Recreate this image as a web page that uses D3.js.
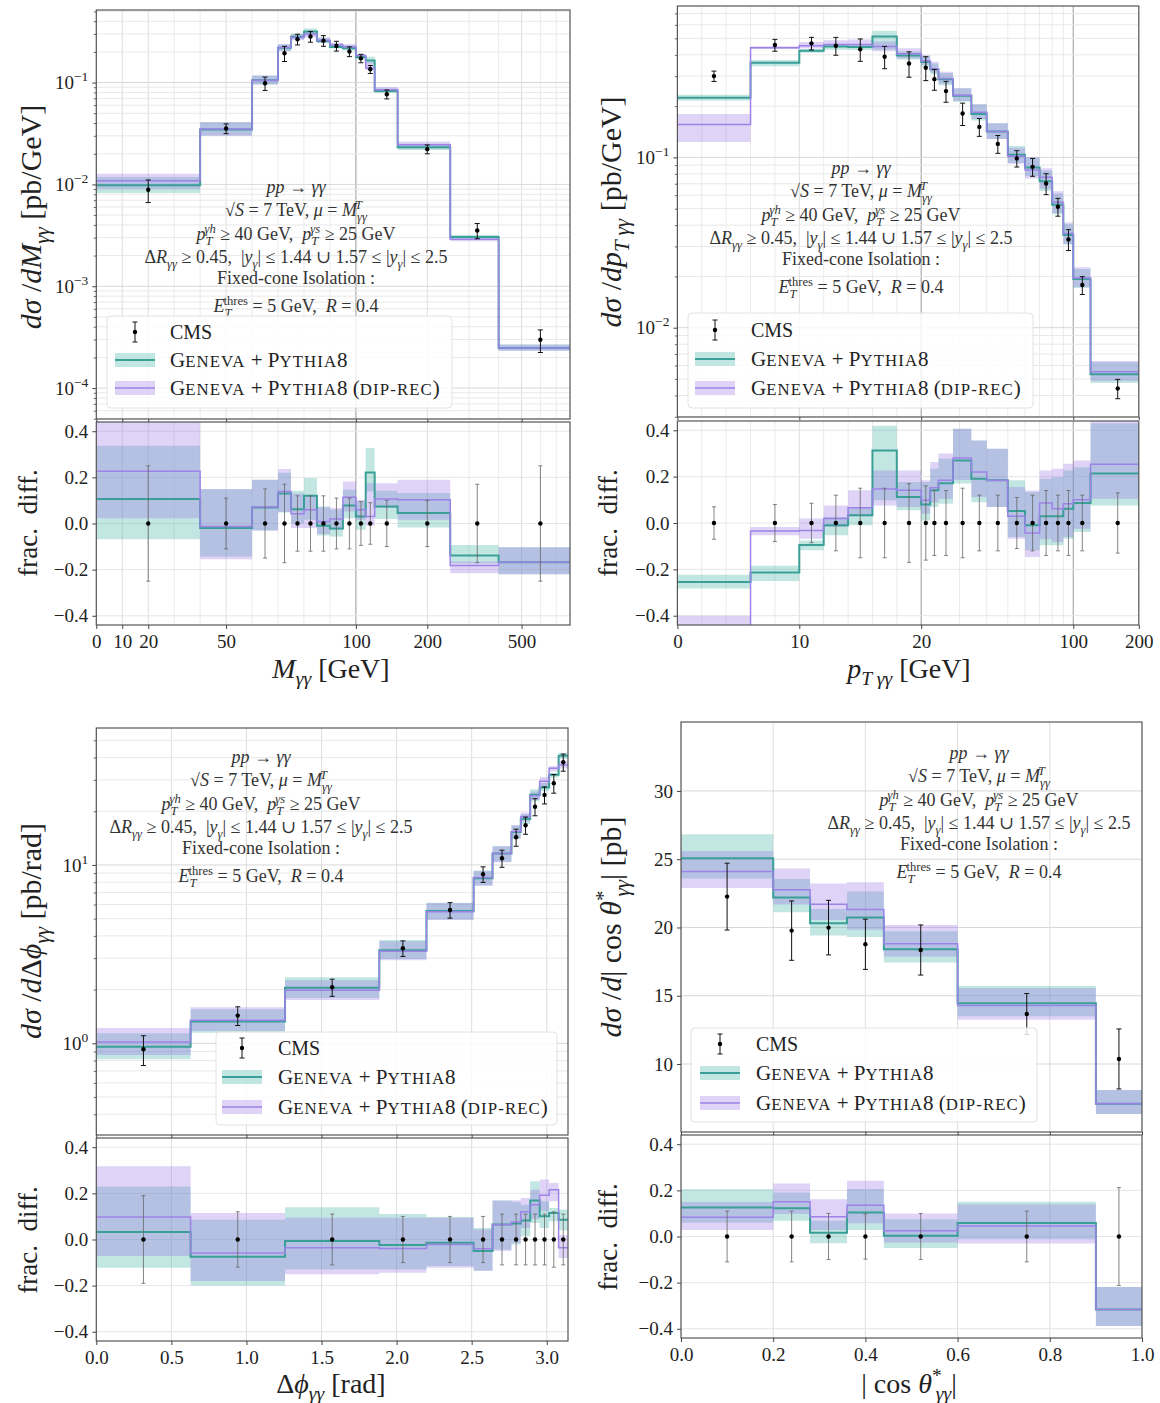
<!DOCTYPE html>
<html><head><meta charset="utf-8">
<script src="https://cdn.jsdelivr.net/npm/d3@7"></script>
<style>
body{margin:0;background:#fff}
text{font-family:"Liberation Serif","DejaVu Serif",serif;fill:#222;white-space:pre}
</style>
</head><body>
<script>
// ---------- DATA ----------
// Panel 1: M_yy
const mEdges = [0,40,60,70,75,80,85,90,95,100,110,120,150,250,400,800];
const mCenters = [20,50,65,72.5,77.5,82.5,87.5,92.5,97.5,105,115,135,200,325,600];
const mCMS = [0.00885,0.0354,0.0985,0.194,0.266,0.283,0.258,0.229,0.202,0.173,0.135,0.0768,0.0222,0.00353,0.000298];
const mCMSErr = [0.25,0.11,0.15,0.17,0.12,0.12,0.12,0.11,0.11,0.095,0.09,0.10,0.10,0.17,0.25];
const mGen   = [0.106,-0.02,0.069,0.13,0.062,0.12,-0.01,-0.022,0.078,0.03,0.221,0.074,0.045,-0.139,-0.168];
const mGenLo = [-0.068,-0.143,-0.03,0.048,0.0,0.016,-0.052,-0.056,0.023,-0.027,0.139,0.02,-0.017,-0.172,-0.22];
const mGenHi = [0.337,0.149,0.19,0.22,0.142,0.197,0.074,0.06,0.146,0.095,0.327,0.142,0.132,-0.093,-0.103];
const mDip   = [0.227,-0.013,0.071,0.139,0.042,0.06,0.009,0.019,0.114,0.06,0.03,0.106,0.103,-0.182,-0.168];
const mDipLo = [0.023,-0.155,-0.03,0.05,-0.02,-0.02,-0.045,-0.027,0.052,0.016,-0.01,0.067,0.016,-0.216,-0.22];
const mDipHi = [0.44,0.15,0.19,0.236,0.13,0.124,0.07,0.067,0.182,0.103,0.175,0.175,0.19,-0.165,-0.103];
const mTicks = [0,10,20,50,100,200,500];
const mTickLabels = ["0","10","20","50","100","200","500"];
const mMinor = [30,40,60,70,80,90,300,400,600,700];

// Panel 2: pT_yy
const pEdges = [0,6,10,12,14,16,18,20,22,24,28,34,40,50,60,70,80,90,100,120,200];
const pCenters = [3,8,11,13,15,17,19,21,23,26,31,37,45,55,65,75,85,95,110,160];
const pCMS = [0.300,0.4565,0.467,0.452,0.431,0.390,0.356,0.336,0.288,0.245,0.181,0.151,0.120,0.0986,0.088,0.0703,0.0513,0.033,0.0178,0.0044];
const pCMSErr = [0.07,0.08,0.085,0.12,0.15,0.15,0.17,0.16,0.14,0.14,0.15,0.12,0.12,0.11,0.12,0.14,0.12,0.14,0.12,0.13];
const pGen   = [-0.254,-0.214,-0.095,-0.01,0.033,0.313,0.112,0.08,0.141,0.172,0.27,0.191,0.184,0.052,-0.01,0.029,0.029,0.062,0.086,0.213];
const pGenLo = [-0.283,-0.25,-0.118,-0.053,-0.01,0.098,0.055,0.011,0.069,0.083,0.17,0.09,0.069,-0.06,-0.118,-0.096,-0.096,-0.068,-0.039,0.076];
const pGenHi = [-0.223,-0.184,-0.075,0.026,0.066,0.42,0.177,0.177,0.234,0.277,0.407,0.356,0.32,0.184,0.134,0.191,0.198,0.227,0.241,0.43];
const pDip   = [-0.48,-0.035,-0.032,0.019,0.066,0.147,0.141,0.098,0.152,0.184,0.28,0.22,0.184,0.029,-0.043,0.086,0.062,0.083,0.1,0.253];
const pDipLo = [-0.59,-0.053,-0.068,-0.017,0.029,0.076,0.069,0.04,0.09,0.105,0.185,0.112,0.069,-0.068,-0.147,-0.07,-0.082,-0.06,-0.025,0.105];
const pDipHi = [-0.40,-0.017,0.019,0.076,0.141,0.227,0.227,0.184,0.263,0.3,0.407,0.356,0.32,0.155,0.14,0.227,0.234,0.256,0.27,0.45];
const pTicks = [0,10,20,100,200];
const pTickLabels = ["0","10","20","100","200"];
const pMinor = [2,4,6,8,12,14,16,18,30,40,50,60,70,80,90];

// Panel 3: delta phi
const dEdges = [0,0.628,1.257,1.885,2.199,2.513,2.639,2.765,2.827,2.890,2.953,3.016,3.079,3.1416];
const dCenters = [0.314,0.942,1.571,2.042,2.356,2.576,2.702,2.796,2.859,2.922,2.985,3.047,3.110];
const dCMS = [0.926,1.43,2.06,3.41,5.59,8.87,10.9,14.3,16.7,21.2,24.7,28.7,37.7];
const dCMSErr = [0.19,0.12,0.11,0.10,0.10,0.10,0.11,0.11,0.11,0.11,0.11,0.12,0.11];
const dGen   = [0.032,-0.075,-0.007,-0.024,-0.014,-0.05,0.065,0.069,0.082,0.169,0.101,0.115,0.086];
const dGenLo = [-0.122,-0.199,-0.13,-0.13,-0.115,-0.134,-0.043,-0.022,0.014,0.072,0.05,0.079,0.04];
const dGenHi = [0.23,0.086,0.14,0.111,0.097,0.05,0.169,0.163,0.151,0.252,0.166,0.137,0.13];
const dDip   = [0.097,-0.058,-0.036,-0.039,-0.022,-0.04,0.065,0.076,0.12,0.151,0.192,0.216,-0.036];
const dDipLo = [-0.072,-0.18,-0.151,-0.144,-0.122,-0.137,-0.05,-0.015,0.05,0.09,0.122,0.166,-0.08];
const dDipHi = [0.317,0.115,0.094,0.094,0.094,0.043,0.169,0.17,0.18,0.216,0.26,0.245,0.02];
const dTicks = [0,0.5,1,1.5,2,2.5,3];
const dTickLabels = ["0.0","0.5","1.0","1.5","2.0","2.5","3.0"];

// Panel 4: |cos theta*|
const cEdges = [0,0.2,0.28,0.36,0.44,0.6,0.9,1.0];
const cCenters = [0.1,0.24,0.32,0.4,0.52,0.75,0.95];
const cCMS = [22.26,19.77,19.99,18.77,18.35,13.66,10.37];
const cCMSErr = [0.11,0.11,0.10,0.098,0.10,0.11,0.212];
const cGen   = [0.126,0.123,0.016,0.104,0.003,0.058,-0.316];
const cGenLo = [0.06,0.068,-0.029,0.028,-0.05,-0.012,-0.388];
const cGenHi = [0.205,0.191,0.068,0.206,0.075,0.151,-0.219];
const cDip   = [0.083,0.151,0.086,0.136,0.025,0.046,-0.316];
const cDipLo = [0.028,0.097,0.028,0.057,-0.026,-0.03,-0.388];
const cDipHi = [0.15,0.23,0.162,0.242,0.1,0.14,-0.219];
const cTicks = [0,0.2,0.4,0.6,0.8,1.0];
const cTickLabels = ["0.0","0.2","0.4","0.6","0.8","1.0"];

const ratioTicks = [-0.4,-0.2,0,0.2,0.4];

// ---------- DRAWING ----------
const svg = d3.select("body").append("svg").attr("width",1160).attr("height",1403);
const defs = svg.append("defs");
const TEAL="#3a9f96", PURP="#9d82e8";
const TEAL_F="rgba(64,176,166,0.32)", PURP_F="rgba(150,110,230,0.30)";

function pieceScale(b,d0,d1,r0,rb,r1){
  const lin=d3.scaleLinear().domain([d0,b]).range([r0,rb]);
  const lg=d3.scaleLog().domain([b,d1]).range([rb,r1]);
  const s=v=> v<=b ? lin(v) : lg(v);
  s.range=()=>[r0,r1]; s.domain=()=>[d0,d1]; s.copy=()=>s;
  return s;
}
function minorLog(lo,hi){
  const out=[];
  for(let e=Math.floor(Math.log10(lo));e<=Math.ceil(Math.log10(hi));e++)
    for(let m=2;m<=9;m++){const v=m*Math.pow(10,e); if(v>lo&&v<hi) out.push(v);}
  return out;
}
function rich(t,segs,fs){
  let cur=0;
  segs.forEach(([s,o])=>{
    o=o||{};
    let size=fs,target=0;
    if(o.sub){size=fs*0.7;target=fs*0.25;}
    if(o.sup){size=fs*0.7;target=-fs*0.38;}
    const ts=t.append("tspan").text(s).attr("dy",target-cur);
    if(o.sc){size=fs*0.8; ts.attr("letter-spacing",1.1);}
    ts.attr("font-size",size);
    if(o.i) ts.attr("font-style","italic");
    if(o.dx) ts.attr("dx",o.dx);
    cur=target;
  });
  return t;
}
const I={i:1}, SUB={i:1,sub:1}, SUP={sup:1}, SC={sc:1};
const annLines=[
  [["pp",I],[" → "],["γγ",I]],
  [["√"],["S",I],[" = 7 TeV, "],["μ",I],[" = "],["M",I],["γγ",SUB],["T",{i:1,sup:1,dx:-12}]],
  [["p",I],["T",SUB],["γh",{i:1,sup:1,dx:-8}],[" ≥ 40 GeV,  "],["p",I],["T",SUB],["γs",{i:1,sup:1,dx:-8}],[" ≥ 25 GeV"]],
  [["Δ"],["R",I],["γγ",SUB],[" ≥ 0.45,  |"],["y",I],["γ",SUB],["| ≤ 1.44 ∪ 1.57 ≤ |"],["y",I],["γ",SUB],["| ≤ 2.5"]],
  [["Fixed-cone Isolation :"]],
  [["E",I],["T",SUB],["thres",{sup:1,dx:-8}],[" = 5 GeV,  "],["R",I],[" = 0.4"]]
];
const annOffsets=[0,23,47,70,91,119];

function drawPanel(c){
  const g=svg.append("g");
  const x=c.x, [x0,x1]=x.range();
  const ym=c.ym;
  const yr=d3.scaleLinear().domain([-0.44,0.44]).range([c.rb,c.rt]);
  defs.append("clipPath").attr("id",c.id+"m").append("rect").attr("x",x0).attr("y",c.mt).attr("width",x1-x0).attr("height",c.mb-c.mt);
  defs.append("clipPath").attr("id",c.id+"r").append("rect").attr("x",x0).attr("y",c.rt).attr("width",x1-x0).attr("height",c.rb-c.rt);
  const gm=g.append("g").attr("clip-path",`url(#${c.id}m)`);
  const gr=g.append("g").attr("clip-path",`url(#${c.id}r)`);
  // grids
  const vline=(gg,v,t,b,col)=>gg.append("line").attr("x1",x(v)).attr("x2",x(v)).attr("y1",t).attr("y2",b).attr("stroke",col).attr("stroke-width",1);
  [[gm,c.mt,c.mb],[gr,c.rt,c.rb]].forEach(([gg,t,b])=>{
    (c.xMinor||[]).forEach(v=>vline(gg,v,t,b,"#ebebeb"));
    c.xTicks.forEach(v=>vline(gg,v,t,b,"#dedede"));
    (c.xDark||[]).forEach(v=>vline(gg,v,t,b,"#a8a8a8"));
  });
  const hline=(gg,yy,col)=>gg.append("line").attr("x1",x0).attr("x2",x1).attr("y1",yy).attr("y2",yy).attr("stroke",col);
  (c.yMinor||[]).forEach(v=>hline(gm,ym(v),"#e8e8e8"));
  c.yTicks.forEach(v=>hline(gm,ym(v),"#d8d8d8"));
  ratioTicks.forEach(v=>hline(gr,yr(v),"#e6e6e6"));

  const n=c.cms.length;
  const pts=(vals,lo,hi,f)=>c.edges.map((e,i)=>{const k=Math.min(i,n-1);return {x:e,v:f(vals[k],k),lo:f(lo[k],k),hi:f(hi[k],k)};});
  const mainF=(r,k)=>c.cms[k]*(1+r), ratF=r=>r;
  [[gm,ym,mainF],[gr,yr,ratF]].forEach(([gg,y,f])=>{
    const area=d3.area().x(d=>x(d.x)).y0(d=>y(d.lo)).y1(d=>y(d.hi)).curve(d3.curveStepAfter);
    const line=d3.line().x(d=>x(d.x)).y(d=>y(d.v)).curve(d3.curveStepAfter);
    const G=pts(c.gen,c.genLo,c.genHi,f), D=pts(c.dip,c.dipLo,c.dipHi,f);
    gg.append("path").attr("d",area(G)).attr("fill",TEAL_F);
    gg.append("path").attr("d",area(D)).attr("fill",PURP_F);
    gg.append("path").attr("d",line(G)).attr("fill","none").attr("stroke",TEAL).attr("stroke-width",2);
    gg.append("path").attr("d",line(D)).attr("fill","none").attr("stroke",PURP).attr("stroke-width",1.5);
  });
  // CMS points
  c.centers.forEach((cx,k)=>{
    const X=x(cx), v=c.cms[k], e=c.err[k];
    const yt=ym(v*(1+e)), yb=ym(v*(1-e));
    gm.append("line").attr("x1",X).attr("x2",X).attr("y1",yt).attr("y2",yb).attr("stroke","#111").attr("stroke-width",1);
    [yt,yb].forEach(yy=>gm.append("line").attr("x1",X-2.5).attr("x2",X+2.5).attr("y1",yy).attr("y2",yy).attr("stroke","#111"));
    gm.append("circle").attr("cx",X).attr("cy",ym(v)).attr("r",2.2).attr("fill","#000");
    const rt=yr(e), rb=yr(-e);
    gr.append("line").attr("x1",X).attr("x2",X).attr("y1",rt).attr("y2",rb).attr("stroke","#666").attr("stroke-width",0.8);
    [rt,rb].forEach(yy=>gr.append("line").attr("x1",X-2).attr("x2",X+2).attr("y1",yy).attr("y2",yy).attr("stroke","#666").attr("stroke-width",0.8));
    gr.append("circle").attr("cx",X).attr("cy",yr(0)).attr("r",2.2).attr("fill","#000");
  });
  // frames
  [[c.mt,c.mb],[c.rt,c.rb]].forEach(([t,b])=>g.append("rect").attr("x",x0).attr("y",t).attr("width",x1-x0).attr("height",b-t).attr("fill","none").attr("stroke","#555").attr("stroke-width",1.2));
  // axes
  const ax=g.append("g").attr("transform",`translate(0,${c.rb})`)
    .call(d3.axisBottom(x).tickValues(c.xTicks).tickFormat((d,i)=>c.xLabels[i]).tickSize(4).tickPadding(4));
  ax.attr("font-size",19).attr("color","#444"); ax.select(".domain").remove();
  ax.selectAll("text").attr("dy","0.78em");
  const am=g.append("g").attr("transform",`translate(0,${c.mb})`).call(d3.axisBottom(x).tickValues(c.xTicks).tickFormat("").tickSize(3));
  am.attr("color","#444"); am.select(".domain").remove();
  const ar=g.append("g").attr("transform",`translate(${x0},0)`)
    .call(d3.axisLeft(yr).tickValues(ratioTicks).tickFormat(d3.format(".1f")).tickSize(4).tickPadding(4));
  ar.attr("font-size",19).attr("color","#444"); ar.select(".domain").remove();
  const ay=g.append("g").attr("transform",`translate(${x0},0)`)
    .call(d3.axisLeft(ym).tickValues(c.yTicks).tickFormat("").tickSize(4));
  ay.attr("color","#444"); ay.select(".domain").remove();
  if(c.yMinor){
    const an=g.append("g").attr("transform",`translate(${x0},0)`).call(d3.axisLeft(ym).tickValues(c.yMinor).tickFormat("").tickSize(2.5));
    an.attr("color","#666"); an.select(".domain").remove();
  }
  c.yTicks.forEach(v=>{
    const t=g.append("text").attr("x",x0-8).attr("y",ym(v)).attr("text-anchor","end").attr("dy","0.35em").attr("font-size",19);
    if(c.yLog){
      const ex=Math.round(Math.log10(v));
      t.append("tspan").text("10");
      t.append("tspan").text(ex<0?"−"+(-ex):String(ex)).attr("font-size",13.5).attr("dy",-8);
    } else t.text(String(v));
  });
  // annotation
  annLines.forEach((segs,i)=>{
    const t=g.append("text").attr("x",c.ann[0]).attr("y",c.ann[1]+annOffsets[i]).attr("text-anchor","middle").style("fill","#333");
    rich(t,segs,18);
  });
  // legend
  const L=c.leg;
  g.append("rect").attr("x",L[0]).attr("y",L[1]).attr("width",L[2]).attr("height",L[3]).attr("rx",4)
    .attr("fill","rgba(255,255,255,0.82)").attr("stroke","#e2e2e2");
  const hx=L[4], tx=L[5], rows=L[6], hc=hx+20;
  g.append("line").attr("x1",hc).attr("x2",hc).attr("y1",rows[0]-10).attr("y2",rows[0]+10).attr("stroke","#111");
  [rows[0]-10,rows[0]+10].forEach(yy=>g.append("line").attr("x1",hc-2.5).attr("x2",hc+2.5).attr("y1",yy).attr("y2",yy).attr("stroke","#111"));
  g.append("circle").attr("cx",hc).attr("cy",rows[0]).attr("r",2.2).attr("fill","#000");
  g.append("text").attr("x",tx).attr("y",rows[0]+7).attr("font-size",20).text("CMS");
  [[TEAL,TEAL_F,2,rows[1],false],[PURP,PURP_F,1.5,rows[2],true]].forEach(([lc,fc,lw,ry,dip])=>{
    g.append("rect").attr("x",hx).attr("y",ry-7).attr("width",40).attr("height",14).attr("fill",fc);
    g.append("line").attr("x1",hx).attr("x2",hx+40).attr("y1",ry).attr("y2",ry).attr("stroke",lc).attr("stroke-width",lw);
    const t=g.append("text").attr("x",tx).attr("y",ry+7);
    const segs=[["G"],["ENEVA",SC],[" + P"],["YTHIA",SC],["8"]];
    if(dip) segs.push([" ("],["DIP-REC",SC],[")"]);
    rich(t,segs,21);
  });
  // labels
  const yl=g.append("text").attr("transform",`translate(${c.ylab[0]},${c.ylab[1]}) rotate(-90)`).attr("text-anchor","middle");
  rich(yl,c.ylabSegs,30);
  g.append("text").attr("transform",`translate(${c.flab[0]},${c.flab[1]}) rotate(-90)`).attr("text-anchor","middle").attr("font-size",27).text("frac.  diff.");
  const xl=g.append("text").attr("x",c.xlab[0]).attr("y",c.xlab[1]).attr("text-anchor","middle");
  rich(xl,c.xlabSegs,28);
}

const panels=[
 {id:"tl", x:pieceScale(100,0,800,96.3,355.9,570), ym:d3.scaleLog().domain([4.97e-5,0.516]).range([419,10]),
  mt:10,mb:419,rt:422,rb:625, edges:mEdges,centers:mCenters,cms:mCMS,err:mCMSErr,
  gen:mGen,genLo:mGenLo,genHi:mGenHi,dip:mDip,dipLo:mDipLo,dipHi:mDipHi,
  xTicks:mTicks,xLabels:mTickLabels,xMinor:mMinor,xDark:[100],
  yTicks:[1e-4,1e-3,1e-2,1e-1],yMinor:minorLog(4.97e-5,0.516),yLog:true,
  ann:[296,193], leg:[107,316,345,92,115,170,[332,360,388]],
  ylab:[41,217], ylabSegs:[["dσ",I],[" /"],["dM",I],["γγ",SUB],[" [pb/GeV]"]],
  flab:[37,523], xlab:[331,678], xlabSegs:[["M",I],["γγ",SUB],[" [GeV]"]]},
 {id:"tr", x:pieceScale(20,0,200,677.4,921.2,1138.8), ym:d3.scaleLog().domain([0.00299,0.774]).range([417,6]),
  mt:6,mb:417,rt:421,rb:625, edges:pEdges,centers:pCenters,cms:pCMS,err:pCMSErr,
  gen:pGen,genLo:pGenLo,genHi:pGenHi,dip:pDip,dipLo:pDipLo,dipHi:pDipHi,
  xTicks:pTicks,xLabels:pTickLabels,xMinor:pMinor,xDark:[20,100],
  yTicks:[1e-2,1e-1],yMinor:minorLog(0.00299,0.774),yLog:true,
  ann:[861,174], leg:[688,313,345,95,695,751,[330,359,388]],
  ylab:[621,212], ylabSegs:[["dσ",I],[" /"],["dp",I],["T γγ",SUB],[" [pb/GeV]"]],
  flab:[617,523], xlab:[909,678], xlabSegs:[["p",I],["T γγ",SUB],[" [GeV]"]]},
 {id:"bl", x:d3.scaleLinear().domain([0,Math.PI]).range([96.3,568]), ym:d3.scaleLog().domain([0.306,58.6]).range([1135,728]),
  mt:728,mb:1135,rt:1138,rb:1341, edges:dEdges,centers:dCenters,cms:dCMS,err:dCMSErr,
  gen:dGen,genLo:dGenLo,genHi:dGenHi,dip:dDip,dipLo:dDipLo,dipHi:dDipHi,
  xTicks:dTicks,xLabels:dTickLabels,
  yTicks:[1,10],yMinor:minorLog(0.306,58.6),yLog:true,
  ann:[261,763], leg:[216,1032,341,93,222,278,[1048,1077,1107]],
  ylab:[41,931], ylabSegs:[["dσ",I],[" /"],["d",I],["Δ"],["ϕ",I],["γγ",SUB],[" [pb/rad]"]],
  flab:[37,1240], xlab:[331,1393], xlabSegs:[["Δ"],["ϕ",I],["γγ",SUB],[" [rad]"]]},
 {id:"br", x:d3.scaleLinear().domain([0,1]).range([681,1142]), ym:d3.scaleLinear().domain([5.02,35.05]).range([1132,722]),
  mt:722,mb:1132,rt:1135,rb:1338, edges:cEdges,centers:cCenters,cms:cCMS,err:cCMSErr,
  gen:cGen,genLo:cGenLo,genHi:cGenHi,dip:cDip,dipLo:cDipLo,dipHi:cDipHi,
  xTicks:cTicks,xLabels:cTickLabels,
  yTicks:[10,15,20,25,30],yLog:false,
  ann:[979,759], leg:[691,1028,346,94,700,756,[1044,1073,1103]],
  ylab:[621,927], ylabSegs:[["dσ",I],[" /"],["d",I],["| cos "],["θ",I],["*",SUP],["γγ",{i:1,sub:1,dx:-6}],["| [pb]"]],
  flab:[617,1237], xlab:[909,1393], xlabSegs:[["| cos "],["θ",I],["*",SUP],["γγ",{i:1,sub:1,dx:-6}],["|"]]}
];
panels.forEach(drawPanel);
</script>
</body></html>
